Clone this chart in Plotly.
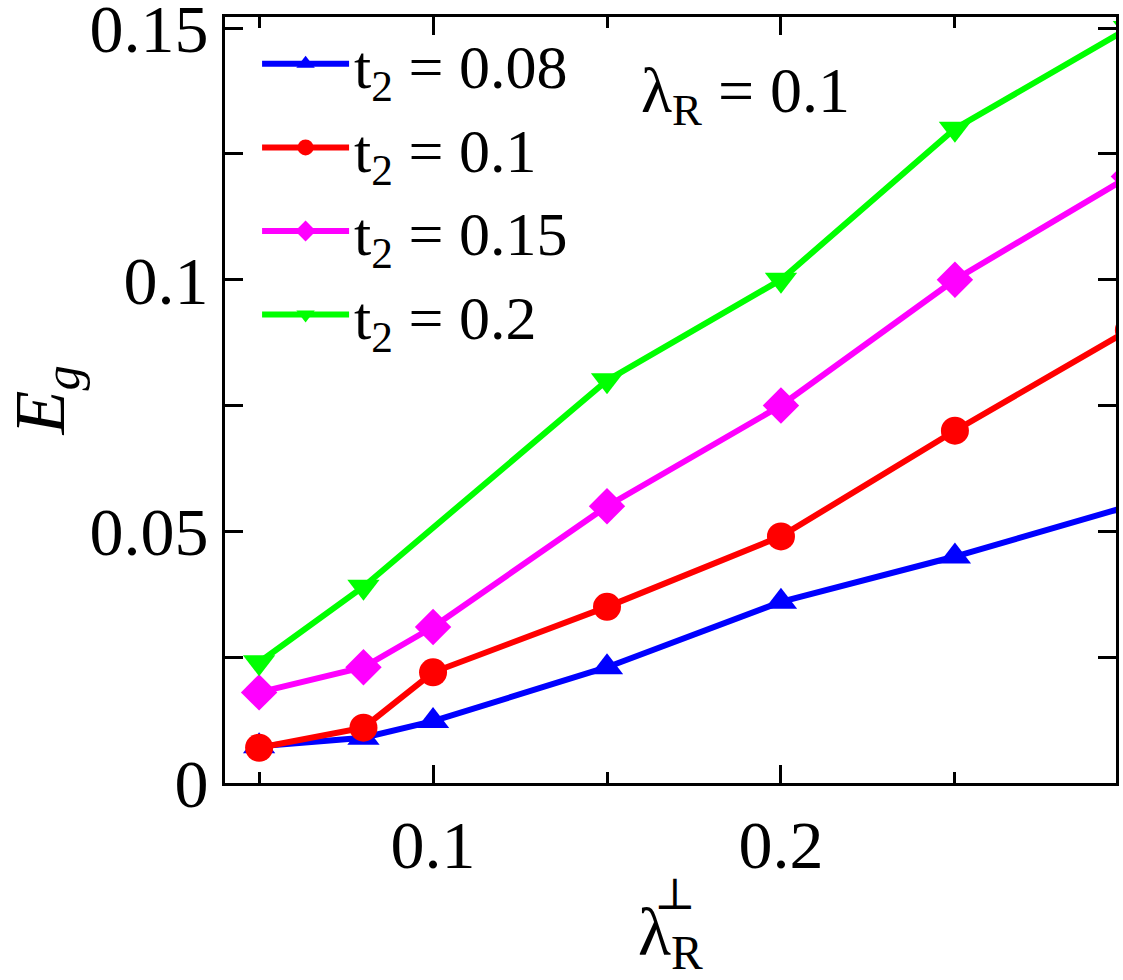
import plotly.graph_objects as go

x_vals = [0.05, 0.08, 0.1, 0.15, 0.2, 0.25, 0.3]
x_green = [0.05, 0.08, 0.15, 0.2, 0.25, 0.3]
eg_t008 = [0.0073, 0.009, 0.0123, 0.023, 0.036, 0.045, 0.055]
eg_t010 = [0.007, 0.011, 0.022, 0.035, 0.049, 0.070, 0.090]
eg_t015 = [0.018, 0.023, 0.031, 0.055, 0.075, 0.100, 0.1205]
eg_t020 = [0.0240, 0.0390, 0.080, 0.100, 0.130, 0.150]

names = ["t<sub>2</sub> = 0.08", "t<sub>2</sub> = 0.1", "t<sub>2</sub> = 0.15", "t<sub>2</sub> = 0.2"]
colors = ["#0000ff", "#ff0000", "#ff00ff", "#00ff00"]
symbols = ["triangle-up", "circle", "diamond", "triangle-down"]
xs = [x_vals, x_vals, x_vals, x_green]
ys = [eg_t008, eg_t010, eg_t015, eg_t020]
msizes = [28, 28, 28, 28]

FONT = "'Liberation Serif', 'Times New Roman', 'DejaVu Serif', serif"

fig = go.Figure()
for name, c, s, xx, yy, ms in zip(names, colors, symbols, xs, ys, msizes):
    fig.add_trace(go.Scatter(
        x=xx, y=yy, mode="lines+markers", name=name,
        line=dict(color=c, width=6),
        marker=dict(symbol=s, size=ms, color=c, line=dict(width=0)),
        cliponaxis=True,
    ))

axis_common = dict(
    showline=True, linecolor="black", linewidth=3, mirror="ticks",
    ticks="inside", ticklen=18, tickwidth=3, tickcolor="black",
    showgrid=False, zeroline=False, ticklabeloverflow="allow", automargin=False,
    tickfont=dict(family=FONT, size=68, color="black"),
)

fig.update_layout(
    width=1123, height=980,
    margin=dict(l=225, r=7, t=17, b=197, autoexpand=False),
    paper_bgcolor="white", plot_bgcolor="white",
    font=dict(family=FONT, color="black"),
    xaxis=dict(
        range=[0.0402, 0.2963],
        tickmode="linear", tick0=0, dtick=0.1,
        minor=dict(tickmode="linear", tick0=0.05, dtick=0.1, ticks="inside",
                   ticklen=11, tickwidth=3, tickcolor="black"),
        **axis_common,
    ),
    yaxis=dict(
        range=[0, 0.1522],
        tickmode="linear", tick0=0, dtick=0.05,
        minor=dict(tickmode="linear", tick0=0.025, dtick=0.05, ticks="inside",
                   ticklen=18, tickwidth=3, tickcolor="black"),
        title=dict(text="<i>E</i><sub><i>g</i></sub>", font=dict(family=FONT, size=72), standoff=22),
        **axis_common,
    ),
    showlegend=True,
    legend=dict(
        x=0.036, y=1.0, xanchor="left", yanchor="top",
        bgcolor="rgba(0,0,0,0)", borderwidth=0,
        font=dict(family=FONT, size=62, color="black"),
        itemwidth=87, tracegroupgap=0,
    ),
)

fig.add_annotation(
    xref="paper", yref="paper", x=0.465, y=0.898, xanchor="left", yanchor="middle",
    text="λ<sub>R</sub> = 0.1", showarrow=False,
    font=dict(family=FONT, size=64, color="black"),
)
fig.add_annotation(
    xref="paper", yref="paper", x=0.5, y=-0.2, xanchor="center", yanchor="middle",
    text="λ<sub>R</sub>", showarrow=False,
    font=dict(family=FONT, size=68, color="black"),
)
fig.add_annotation(
    xref="paper", yref="paper", x=0.505, y=-0.145, xanchor="center", yanchor="middle",
    text="⊥", showarrow=False,
    font=dict(family=FONT, size=44, color="black"),
)

fig.write_html("out.html")
